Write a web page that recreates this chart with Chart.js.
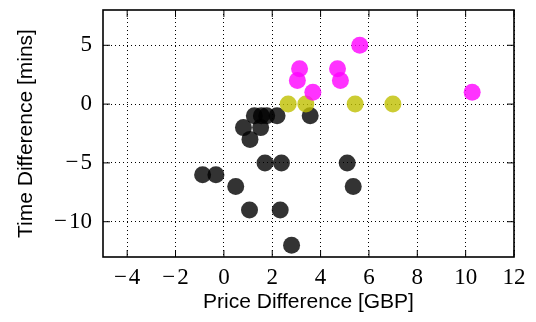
<!DOCTYPE html>
<html>
<head>
<meta charset="utf-8">
<script src="https://cdn.jsdelivr.net/npm/chart.js@4"></script>
<style>
  html, body { margin: 0; padding: 0; background: #fff; }
  #wrap { width: 536px; height: 322px; }
</style>
</head>
<body>
<div id="wrap"><canvas id="myChart" width="536" height="322"></canvas></div>
<script>
// price difference (GBP) / time difference (mins) per group
var pinkX = [5.62, 3.13, 3.04, 3.68, 4.70, 4.82, 10.27];
var pinkY = [5, 3, 2, 1, 3, 2, 1];

var yellowX = [2.66, 3.39, 5.43, 6.99];
var yellowY = [0, 0, 0, 0];

var blackX = [1.26, 1.55, 1.77, 2.2, 3.57, 0.81, 1.52, 1.08, 1.70, 2.38, 5.1, -0.88, -0.33, 0.49, 5.35, 1.06, 2.33, 2.8];
var blackY = [-1, -1, -1, -1, -1, -2, -2, -3, -5, -5, -5, -6, -6, -7, -7, -9, -9, -12];

var xTicks = [-4, -2, 0, 2, 4, 6, 8, 10, 12];
var yTicks = [-10, -5, 0, 5];

function pts(xs, ys) {
    return xs.map((x, i) => ({x: x, y: ys[i]}));
}

function minus(v) {
    return String(v).replace('-', '\u2212\u200a');
}

// frame + inward tick marks, like the pgfplots look
var framePlugin = {
    id: 'frame',
    afterDatasetsDraw(chart) {
        const ctx = chart.ctx;
        const a = chart.chartArea;
        const sx = chart.scales.x, sy = chart.scales.y;
        ctx.save();
        ctx.strokeStyle = '#000';
        ctx.lineWidth = 1;
        ctx.beginPath();
        xTicks.forEach(v => {
            const p = sx.getPixelForValue(v);
            ctx.moveTo(p, a.bottom); ctx.lineTo(p, a.bottom - 7);
            ctx.moveTo(p, a.top); ctx.lineTo(p, a.top + 7);
        });
        yTicks.forEach(v => {
            const p = sy.getPixelForValue(v);
            ctx.moveTo(a.left, p); ctx.lineTo(a.left + 7, p);
            ctx.moveTo(a.right, p); ctx.lineTo(a.right - 7, p);
        });
        ctx.stroke();
        ctx.lineWidth = 1.6;
        ctx.strokeRect(a.left, a.top, a.right - a.left, a.bottom - a.top);
        ctx.restore();
    }
};

const ctx = document.getElementById('myChart').getContext('2d');
const myChart = new Chart(ctx, {
    type: 'scatter',
    data: {
        datasets: [
            {
                label: 'pink',
                data: pts(pinkX, pinkY),
                backgroundColor: 'rgba(255, 0, 255, 0.8)',
                borderWidth: 0,
                pointRadius: 8.5,
                pointHoverRadius: 8.5
            },
            {
                label: 'yellow',
                data: pts(yellowX, yellowY),
                backgroundColor: 'rgba(191, 191, 0, 0.8)',
                borderWidth: 0,
                pointRadius: 8.5,
                pointHoverRadius: 8.5
            },
            {
                label: 'black',
                data: pts(blackX, blackY),
                backgroundColor: 'rgba(0, 0, 0, 0.8)',
                borderWidth: 0,
                pointRadius: 8.5,
                pointHoverRadius: 8.5
            }
        ]
    },
    options: {
        responsive: false,
        animation: false,
        layout: { padding: { top: 10, right: 22, left: 0, bottom: 0 } },
        plugins: {
            legend: { display: false },
            tooltip: { enabled: false }
        },
        scales: {
            x: {
                type: 'linear',
                min: -5,
                max: 12,
                afterFit: s => { s.height = 65; s.paddingLeft = 0; s.paddingRight = 0; },
                afterBuildTicks: s => { s.ticks = xTicks.map(v => ({value: v})); },
                grid: {
                    color: '#000',
                    lineWidth: 1,
                    drawTicks: false
                },
                border: { display: false, dash: [1, 3] },
                ticks: {
                    padding: 7,
                    color: '#000',
                    font: { family: 'Liberation Serif', size: 23 },
                    callback: v => minus(v)
                },
                title: {
                    display: true,
                    text: 'Price Difference [GBP]',
                    color: '#000',
                    font: { family: 'Liberation Sans', size: 21 },
                    padding: { top: 0, bottom: 7 }
                }
            },
            y: {
                type: 'linear',
                min: -13,
                max: 8,
                afterFit: s => { s.width = 103; s.paddingTop = 0; s.paddingBottom = 0; },
                afterBuildTicks: s => { s.ticks = yTicks.map(v => ({value: v})); },
                grid: {
                    color: '#000',
                    lineWidth: 1,
                    drawTicks: false
                },
                border: { display: false, dash: [1, 3] },
                ticks: {
                    padding: 11,
                    color: '#000',
                    font: { family: 'Liberation Serif', size: 23 },
                    callback: v => minus(v)
                },
                title: {
                    display: true,
                    text: 'Time Difference [mins]',
                    color: '#000',
                    font: { family: 'Liberation Sans', size: 21 },
                    padding: { top: 14, bottom: 0 }
                }
            }
        }
    },
    plugins: [framePlugin]
});
</script>
</body>
</html>
